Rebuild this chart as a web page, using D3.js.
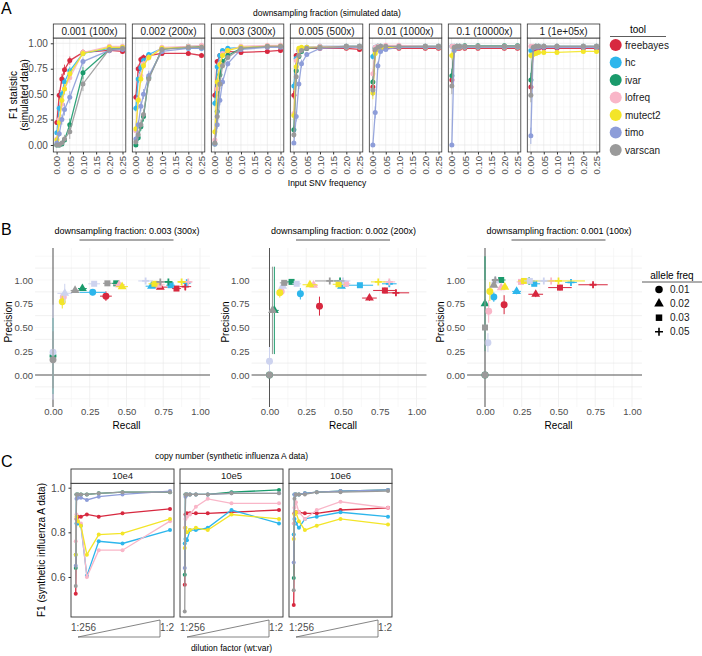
<!DOCTYPE html>
<html>
<head>
<meta charset="utf-8">
<script src="https://cdnjs.cloudflare.com/ajax/libs/d3/7.8.5/d3.min.js"></script>
<style>
  body { margin: 0; background: #fff; }
  svg { font-family: "Liberation Sans", Arial, sans-serif; }
</style>
</head>
<body>
<div id="chart"></div>
<script>
// ---------- shared ----------
var tools = ["freebayes", "hc", "ivar", "lofreq", "mutect2", "timo", "varscan"];
var toolColors = ["#d7283f", "#2db6ec", "#1a9a6b", "#f9b6c8", "#f3e528", "#8d9dd9", "#9a9a9a"];

// ---------- panel A: F1 vs input SNV frequency ----------
var fractionLabels = ["0.001 (100x)", "0.002 (200x)", "0.003 (300x)", "0.005 (500x)", "0.01 (1000x)", "0.1 (10000x)", "1 (1e+05x)"];
var snvFreq = [0.001, 0.01, 0.02, 0.03, 0.05, 0.1, 0.2, 0.25];
var xTicksA = [0, 0.05, 0.1, 0.15, 0.2, 0.25];

// rows follow tools order
var f1_0001 = [
  [0.22, 0.49, 0.65, 0.74, 0.83, 0.91, 0.93, 0.92],
  [0.12, 0.36, 0.50, 0.62, 0.73, 0.90, 0.95, 0.96],
  [0.00, 0.00, 0.01, 0.05, 0.20, 0.71, 0.94, 0.95],
  [0.06, 0.25, 0.40, 0.55, 0.66, 0.91, 0.97, 0.97],
  [0.05, 0.22, 0.44, 0.55, 0.70, 0.90, 0.96, 0.96],
  [0.02, 0.11, 0.25, 0.35, 0.47, 0.82, 0.93, 0.94],
  [0.00, 0.00, 0.02, 0.06, 0.13, 0.60, 0.94, 0.95]
];
var f1_0002 = [
  [0.47, 0.75, 0.84, 0.86, 0.88, 0.90, 0.90, 0.88],
  [0.36, 0.65, 0.76, 0.83, 0.89, 0.95, 0.95, 0.95],
  [0.00, 0.07, 0.18, 0.28, 0.66, 0.94, 0.97, 0.97],
  [0.14, 0.45, 0.68, 0.80, 0.86, 0.96, 0.97, 0.98],
  [0.16, 0.44, 0.65, 0.78, 0.86, 0.95, 0.96, 0.96],
  [0.06, 0.20, 0.38, 0.50, 0.68, 0.92, 0.95, 0.95],
  [0.03, 0.10, 0.20, 0.30, 0.65, 0.94, 0.96, 0.96]
];
var f1_0003 = [
  [0.49, 0.82, 0.88, 0.90, 0.92, 0.91, 0.92, 0.93],
  [0.41, 0.77, 0.88, 0.93, 0.95, 0.96, 0.97, 0.97],
  [0.01, 0.33, 0.69, 0.82, 0.88, 0.95, 0.97, 0.97],
  [0.05, 0.55, 0.80, 0.90, 0.93, 0.97, 0.98, 0.98],
  [0.13, 0.62, 0.79, 0.88, 0.93, 0.96, 0.97, 0.97],
  [0.01, 0.20, 0.44, 0.62, 0.80, 0.94, 0.96, 0.96],
  [0.02, 0.28, 0.60, 0.78, 0.86, 0.95, 0.97, 0.97]
];
var f1_0005 = [
  [0.49, 0.88, 0.93, 0.94, 0.95, 0.95, 0.95, 0.94],
  [0.58, 0.85, 0.93, 0.95, 0.96, 0.97, 0.97, 0.97],
  [0.15, 0.73, 0.87, 0.92, 0.95, 0.96, 0.97, 0.97],
  [0.31, 0.83, 0.93, 0.95, 0.96, 0.97, 0.97, 0.97],
  [0.29, 0.77, 0.95, 0.96, 0.96, 0.96, 0.96, 0.96],
  [0.02, 0.28, 0.60, 0.80, 0.89, 0.95, 0.96, 0.96],
  [0.10, 0.67, 0.88, 0.93, 0.95, 0.96, 0.97, 0.97]
];
var f1_001 = [
  [0.57, 0.93, 0.95, 0.95, 0.95, 0.95, 0.95, 0.95],
  [0.87, 0.96, 0.97, 0.97, 0.97, 0.97, 0.97, 0.97],
  [0.62, 0.95, 0.97, 0.97, 0.97, 0.97, 0.97, 0.97],
  [0.70, 0.96, 0.97, 0.97, 0.98, 0.98, 0.97, 0.97],
  [0.51, 0.90, 0.94, 0.95, 0.96, 0.96, 0.96, 0.96],
  [0.00, 0.32, 0.78, 0.92, 0.94, 0.96, 0.96, 0.96],
  [0.54, 0.94, 0.96, 0.97, 0.97, 0.97, 0.97, 0.97]
];
var f1_01 = [
  [0.64, 0.95, 0.95, 0.95, 0.95, 0.95, 0.95, 0.95],
  [0.97, 0.97, 0.97, 0.97, 0.97, 0.97, 0.97, 0.97],
  [0.68, 0.96, 0.97, 0.97, 0.975, 0.975, 0.975, 0.975],
  [0.97, 0.97, 0.97, 0.97, 0.97, 0.97, 0.97, 0.97],
  [0.88, 0.95, 0.96, 0.96, 0.96, 0.96, 0.96, 0.96],
  [0.00, 0.93, 0.96, 0.96, 0.96, 0.96, 0.96, 0.96],
  [0.58, 0.96, 0.97, 0.97, 0.97, 0.97, 0.97, 0.97]
];
var f1_1 = [
  [0.57, 0.94, 0.95, 0.95, 0.95, 0.95, 0.95, 0.95],
  [0.93, 0.96, 0.97, 0.97, 0.97, 0.97, 0.97, 0.97],
  [0.64, 0.96, 0.97, 0.97, 0.97, 0.97, 0.97, 0.97],
  [0.97, 0.97, 0.97, 0.97, 0.97, 0.97, 0.97, 0.97],
  [0.88, 0.89, 0.90, 0.91, 0.91, 0.91, 0.92, 0.92],
  [0.09, 0.95, 0.96, 0.96, 0.96, 0.96, 0.96, 0.96],
  [0.49, 0.96, 0.97, 0.97, 0.97, 0.97, 0.97, 0.97]
];
// error bar half-widths, same layout
var se_0001 = [
  [0.02, 0.05, 0.05, 0.05, 0.04, 0.03, 0.02, 0.02],
  [0.02, 0.03, 0.04, 0.04, 0.04, 0.02, 0.02, 0.02],
  [0.00, 0.00, 0.01, 0.03, 0.06, 0.06, 0.02, 0.02],
  [0.02, 0.04, 0.05, 0.05, 0.05, 0.03, 0.02, 0.02],
  [0.02, 0.04, 0.05, 0.05, 0.05, 0.03, 0.02, 0.02],
  [0.01, 0.03, 0.05, 0.06, 0.06, 0.04, 0.03, 0.02],
  [0.00, 0.00, 0.02, 0.04, 0.07, 0.07, 0.02, 0.02]
];
var se_0002 = [
  [0.03, 0.04, 0.03, 0.03, 0.02, 0.02, 0.02, 0.02],
  [0.03, 0.04, 0.04, 0.03, 0.02, 0.01, 0.01, 0.01],
  [0.00, 0.03, 0.04, 0.05, 0.05, 0.02, 0.01, 0.01],
  [0.02, 0.04, 0.04, 0.03, 0.03, 0.01, 0.01, 0.01],
  [0.03, 0.04, 0.04, 0.03, 0.03, 0.01, 0.01, 0.01],
  [0.02, 0.04, 0.05, 0.05, 0.05, 0.02, 0.01, 0.01],
  [0.02, 0.04, 0.05, 0.05, 0.05, 0.02, 0.01, 0.01]
];
var se_0003 = [
  [0.03, 0.02, 0.02, 0.02, 0.02, 0.02, 0.02, 0.02],
  [0.03, 0.03, 0.02, 0.01, 0.01, 0.01, 0.01, 0.01],
  [0.01, 0.04, 0.04, 0.03, 0.02, 0.01, 0.01, 0.01],
  [0.02, 0.04, 0.03, 0.02, 0.01, 0.01, 0.01, 0.01],
  [0.03, 0.04, 0.03, 0.02, 0.01, 0.01, 0.01, 0.01],
  [0.01, 0.04, 0.05, 0.04, 0.03, 0.01, 0.01, 0.01],
  [0.01, 0.04, 0.05, 0.03, 0.02, 0.01, 0.01, 0.01]
];
var se_0005 = [
  [0.04, 0.02, 0.01, 0.01, 0.01, 0.01, 0.01, 0.01],
  [0.04, 0.02, 0.01, 0.01, 0.01, 0.01, 0.01, 0.01],
  [0.04, 0.04, 0.02, 0.01, 0.01, 0.01, 0.01, 0.01],
  [0.04, 0.03, 0.01, 0.01, 0.01, 0.01, 0.01, 0.01],
  [0.04, 0.03, 0.01, 0.01, 0.01, 0.01, 0.01, 0.01],
  [0.01, 0.05, 0.05, 0.04, 0.02, 0.01, 0.01, 0.01],
  [0.03, 0.05, 0.02, 0.01, 0.01, 0.01, 0.01, 0.01]
];
var se_001 = [
  [0.06, 0.01, 0.01, 0.01, 0.01, 0.01, 0.01, 0.01],
  [0.03, 0.01, 0.01, 0.01, 0.01, 0.01, 0.01, 0.01],
  [0.06, 0.01, 0.01, 0.01, 0.01, 0.01, 0.01, 0.01],
  [0.05, 0.01, 0.01, 0.01, 0.01, 0.01, 0.01, 0.01],
  [0.06, 0.02, 0.01, 0.01, 0.01, 0.01, 0.01, 0.01],
  [0.01, 0.06, 0.04, 0.01, 0.01, 0.01, 0.01, 0.01],
  [0.06, 0.01, 0.01, 0.01, 0.01, 0.01, 0.01, 0.01]
];
var se_01 = [
  [0.06, 0.01, 0.01, 0.01, 0.01, 0.01, 0.01, 0.01],
  [0.01, 0.01, 0.01, 0.01, 0.01, 0.01, 0.01, 0.01],
  [0.07, 0.01, 0.01, 0.01, 0.01, 0.01, 0.01, 0.01],
  [0.01, 0.01, 0.01, 0.01, 0.01, 0.01, 0.01, 0.01],
  [0.04, 0.01, 0.01, 0.01, 0.01, 0.01, 0.01, 0.01],
  [0.01, 0.02, 0.01, 0.01, 0.01, 0.01, 0.01, 0.01],
  [0.08, 0.01, 0.01, 0.01, 0.01, 0.01, 0.01, 0.01]
];
var se_1 = [
  [0.06, 0.01, 0.01, 0.01, 0.01, 0.01, 0.01, 0.01],
  [0.02, 0.01, 0.01, 0.01, 0.01, 0.01, 0.01, 0.01],
  [0.07, 0.01, 0.01, 0.01, 0.01, 0.01, 0.01, 0.01],
  [0.01, 0.01, 0.01, 0.01, 0.01, 0.01, 0.01, 0.01],
  [0.03, 0.02, 0.02, 0.02, 0.02, 0.02, 0.02, 0.02],
  [0.08, 0.01, 0.01, 0.01, 0.01, 0.01, 0.01, 0.01],
  [0.07, 0.01, 0.01, 0.01, 0.01, 0.01, 0.01, 0.01]
];

// ---------- panel B: precision vs recall ----------
var bTitles = ["downsampling fraction: 0.003 (300x)", "downsampling fraction: 0.002 (200x)", "downsampling fraction: 0.001 (100x)"];
var alleleFreqs = ["0.01", "0.02", "0.03", "0.05"];
// rows = tools, columns = allele freq
var recall_0003 = [
  [0.36, 0.73, 0.84, 0.90],
  [0.27, 0.67, 0.80, 0.91],
  [0.00, 0.20, 0.43, 0.785],
  [0.07, 0.45, 0.72, 0.92],
  [0.063, 0.47, 0.69, 0.875],
  [0.00, 0.08, 0.28, 0.63],
  [0.00, 0.15, 0.37, 0.73]
];
var prec_0003 = [
  [0.83, 0.925, 0.91, 0.93],
  [0.87, 0.935, 0.945, 0.97],
  [0.20, 0.91, 0.965, 0.98],
  [0.82, 0.95, 0.95, 0.98],
  [0.77, 0.93, 0.96, 0.98],
  [0.24, 0.86, 0.96, 0.99],
  [0.16, 0.89, 0.965, 0.98]
];
var recallSe_0003 = [
  [0.04, 0.05, 0.03, 0.04],
  [0.09, 0.04, 0.03, 0.03],
  [0.00, 0.03, 0.03, 0.03],
  [0.02, 0.04, 0.04, 0.03],
  [0.02, 0.04, 0.04, 0.03],
  [0.00, 0.05, 0.04, 0.05],
  [0.00, 0.03, 0.03, 0.03]
];
var precSe_0003 = [
  [0.05, 0.02, 0.02, 0.04],
  [0.03, 0.01, 0.01, 0.01],
  [0.40, 0.02, 0.01, 0.01],
  [0.05, 0.01, 0.01, 0.01],
  [0.07, 0.01, 0.01, 0.01],
  [0.50, 0.10, 0.02, 0.01],
  [0.30, 0.01, 0.01, 0.01]
];
var recall_0002 = [
  [0.34, 0.68, 0.785, 0.86],
  [0.21, 0.49, 0.615, 0.815],
  [0.00, 0.033, 0.15, 0.48],
  [0.08, 0.30, 0.52, 0.815],
  [0.07, 0.275, 0.47, 0.74],
  [0.00, 0.09, 0.185, 0.50],
  [0.00, 0.02, 0.10, 0.41]
];
var prec_0002 = [
  [0.725, 0.81, 0.89, 0.865],
  [0.855, 0.935, 0.945, 0.96],
  [0.00, 0.68, 0.98, 0.99],
  [0.88, 0.945, 0.96, 0.98],
  [0.865, 0.95, 0.955, 0.98],
  [0.145, 0.935, 0.96, 0.99],
  [0.00, 0.68, 0.97, 0.99]
];
var recallSe_0002 = [
  [0.02, 0.05, 0.08, 0.09],
  [0.02, 0.04, 0.09, 0.05],
  [0.00, 0.03, 0.04, 0.04],
  [0.01, 0.03, 0.03, 0.04],
  [0.01, 0.05, 0.04, 0.05],
  [0.00, 0.02, 0.03, 0.05],
  [0.00, 0.02, 0.03, 0.10]
];
var precSe_0002 = [
  [0.10, 0.03, 0.03, 0.03],
  [0.06, 0.02, 0.01, 0.01],
  [0.00, 0.46, 0.01, 0.01],
  [0.04, 0.02, 0.01, 0.01],
  [0.05, 0.02, 0.01, 0.01],
  [0.15, 0.02, 0.01, 0.01],
  [0.00, 0.46, 0.01, 0.01]
];
var recall_0001 = [
  [0.13, 0.345, 0.51, 0.735],
  [0.06, 0.215, 0.335, 0.585],
  [0.00, 0.00, 0.11, 0.30],
  [0.025, 0.11, 0.245, 0.45],
  [0.033, 0.135, 0.265, 0.50],
  [0.02, 0.07, 0.305, 0.40],
  [0.00, 0.06, 0.00, 0.07]
];
var prec_0001 = [
  [0.74, 0.85, 0.92, 0.95],
  [0.82, 0.88, 0.96, 0.975],
  [0.00, 0.75, 1.00, 0.99],
  [0.67, 0.92, 0.98, 0.99],
  [0.88, 0.925, 0.99, 0.99],
  [0.34, 0.99, 0.99, 0.99],
  [0.00, 0.945, 0.50, 1.00]
];
var recallSe_0001 = [
  [0.01, 0.05, 0.08, 0.10],
  [0.01, 0.03, 0.04, 0.04],
  [0.00, 0.01, 0.03, 0.04],
  [0.01, 0.02, 0.03, 0.04],
  [0.01, 0.02, 0.04, 0.18],
  [0.01, 0.02, 0.04, 0.04],
  [0.00, 0.02, 0.01, 0.02]
];
var precSe_0001 = [
  [0.10, 0.03, 0.03, 0.02],
  [0.05, 0.03, 0.02, 0.01],
  [0.00, 0.50, 0.01, 0.01],
  [0.12, 0.03, 0.01, 0.01],
  [0.10, 0.03, 0.01, 0.01],
  [0.10, 0.01, 0.01, 0.01],
  [0.00, 0.02, 0.50, 0.01]
];

// ---------- panel C: synthetic influenza A ----------
var copyNumbers = ["10e4", "10e5", "10e6"];
var dilution = [256, 128, 64, 32, 16, 8, 4, 2];
var f1_cn1e4 = [
  [0.525, 0.86, 0.87, 0.87, 0.88, 0.87, 0.885, 0.905],
  [0.70, 0.84, 0.84, 0.83, 0.605, 0.76, 0.75, 0.81],
  [0.64, 0.97, 0.97, 0.97, 0.97, 0.975, 0.98, 0.98],
  [0.76, 0.88, 0.85, 0.84, 0.60, 0.72, 0.72, 0.85],
  [0.70, 0.87, 0.85, 0.83, 0.70, 0.79, 0.795, 0.86],
  [0.65, 0.95, 0.955, 0.955, 0.945, 0.96, 0.97, 0.985],
  [0.56, 0.97, 0.97, 0.97, 0.97, 0.975, 0.98, 0.98]
];
var f1_cn1e5 = [
  [0.565, 0.88, 0.885, 0.885, 0.885, 0.885, 0.89, 0.90],
  [0.75, 0.77, 0.765, 0.81, 0.81, 0.82, 0.90, 0.84],
  [0.61, 0.97, 0.97, 0.97, 0.97, 0.97, 0.98, 0.99],
  [0.82, 0.86, 0.87, 0.88, 0.915, 0.95, 0.93, 0.93],
  [0.73, 0.82, 0.80, 0.81, 0.82, 0.81, 0.88, 0.86],
  [0.64, 0.96, 0.97, 0.97, 0.97, 0.97, 0.975, 0.975],
  [0.445, 0.97, 0.97, 0.97, 0.97, 0.97, 0.975, 0.975]
];
var f1_cn1e6 = [
  [0.475, 0.885, 0.89, 0.89, 0.885, 0.885, 0.90, 0.91],
  [0.79, 0.86, 0.84, 0.82, 0.86, 0.87, 0.89, 0.87],
  [0.595, 0.97, 0.97, 0.97, 0.975, 0.98, 0.985, 0.99],
  [0.84, 0.91, 0.935, 0.89, 0.86, 0.90, 0.937, 0.91],
  [0.77, 0.88, 0.89, 0.85, 0.81, 0.83, 0.86, 0.835],
  [0.665, 0.97, 0.97, 0.97, 0.975, 0.98, 0.985, 0.99],
  [0.54, 0.95, 0.97, 0.97, 0.97, 0.98, 0.98, 0.985]
];

// ================== drawing ==================
var svg = d3.select("#chart").append("svg")
  .attr("width", 702)
  .attr("height", 656);

var tickCol = "#4d4d4d";
var frameCol = "#333333";

function addText(g, txt, x, y, size, anchor, col) {
  return g.append("text")
    .attr("x", x).attr("y", y)
    .attr("font-size", size)
    .attr("text-anchor", anchor || "middle")
    .attr("fill", col || "#000")
    .text(txt);
}

// panel letters
addText(svg, "A", 1, 14, 16, "start");
addText(svg, "B", 1, 235, 16, "start");
addText(svg, "C", 1, 467, 16, "start");

// ---------------- panel A ----------------
var f1A = [f1_0001, f1_0002, f1_0003, f1_0005, f1_001, f1_01, f1_1];
var seA = [se_0001, se_0002, se_0003, se_0005, se_001, se_01, se_1];
var aLeft = 53.3, aStep = 79, aW = 72.5, aTop = 38, aBot = 152, aStrip = 24;
var yA = d3.scaleLinear().domain([-0.069, 1.052]).range([aBot, aTop]);

var gA = svg.append("g");
addText(gA, "downsampling fraction (simulated data)", 327, 16, 8.5);
addText(gA, "Input SNV frequency", 327, 186, 8.5);

// y title, two lines
gA.append("text").attr("transform", "translate(17,95) rotate(-90)")
  .attr("text-anchor", "middle").attr("font-size", 10).text("F1 statistic");
gA.append("text").attr("transform", "translate(28,95) rotate(-90)")
  .attr("text-anchor", "middle").attr("font-size", 10).text("(simulated data)");

fractionLabels.forEach(function (lab, fi) {
  var left = aLeft + fi * aStep;
  var x = d3.scaleLinear().domain([-0.0125, 0.2625]).range([left, left + aW]);
  var g = gA.append("g");

  // grid
  var minorY = d3.range(0, 9).map(function (i) { return i * 0.125; });
  var minorX = d3.range(0, 11).map(function (i) { return i * 0.025; });
  g.selectAll(".gy").data(minorY).enter().append("line")
    .attr("x1", left).attr("x2", left + aW)
    .attr("y1", function (d) { return yA(d); }).attr("y2", function (d) { return yA(d); })
    .attr("stroke", function (d, i) { return i % 2 ? "#f2f2f2" : "#e3e3e3"; })
    .attr("stroke-width", function (d, i) { return i % 2 ? 0.4 : 0.6; });
  g.selectAll(".gx").data(minorX).enter().append("line")
    .attr("y1", aTop).attr("y2", aBot)
    .attr("x1", function (d) { return x(d); }).attr("x2", function (d) { return x(d); })
    .attr("stroke", function (d, i) { return i % 2 ? "#f2f2f2" : "#e3e3e3"; })
    .attr("stroke-width", function (d, i) { return i % 2 ? 0.4 : 0.6; });

  // series
  f1A[fi].forEach(function (vals, ti) {
    var col = toolColors[ti];
    var pts = snvFreq.map(function (f, k) { return [f, vals[k], seA[fi][ti][k]]; });
    var sg = g.append("g");
    sg.selectAll(".eb").data(pts).enter().append("line")
      .attr("x1", function (d) { return x(d[0]); }).attr("x2", function (d) { return x(d[0]); })
      .attr("y1", function (d) { return yA(d[1] - d[2]); }).attr("y2", function (d) { return yA(d[1] + d[2]); })
      .attr("stroke", col).attr("stroke-width", 0.8);
    sg.append("path").datum(pts)
      .attr("d", d3.line().x(function (d) { return x(d[0]); }).y(function (d) { return yA(d[1]); }))
      .attr("fill", "none").attr("stroke", col).attr("stroke-width", 1.3).attr("opacity", 0.9);
    sg.selectAll("circle").data(pts).enter().append("circle")
      .attr("cx", function (d) { return x(d[0]); }).attr("cy", function (d) { return yA(d[1]); })
      .attr("r", 2.5).attr("fill", col);
  });

  // frame + strip
  g.append("rect").attr("x", left).attr("y", aTop).attr("width", aW).attr("height", aBot - aTop)
    .attr("fill", "none").attr("stroke", frameCol).attr("stroke-width", 0.8);
  g.append("rect").attr("x", left).attr("y", aStrip).attr("width", aW).attr("height", aTop - aStrip)
    .attr("fill", "#fff").attr("stroke", frameCol).attr("stroke-width", 0.8);
  addText(g, lab, left + aW / 2, aTop - 3.5, 10, "middle", "#1a1a1a");

  // x axis
  var xa = g.append("g").attr("transform", "translate(0," + aBot + ")")
    .call(d3.axisBottom(x).tickValues(xTicksA).tickFormat(d3.format(".2f")).tickSize(2.5));
  xa.select(".domain").remove();
  xa.selectAll("line").attr("stroke", frameCol);
  xa.selectAll("text")
    .attr("transform", "rotate(-90)")
    .attr("x", -4).attr("y", 0).attr("dy", "0.35em")
    .attr("text-anchor", "end").attr("font-size", 9.5).attr("fill", tickCol)
    .attr("font-family", null);

  if (fi === 0) {
    var ya = g.append("g").attr("transform", "translate(" + left + ",0)")
      .call(d3.axisLeft(yA).tickValues([0, 0.25, 0.5, 0.75, 1]).tickFormat(d3.format(".2f")).tickSize(2.5));
    ya.select(".domain").remove();
    ya.selectAll("line").attr("stroke", frameCol);
    ya.selectAll("text").attr("font-size", 10).attr("fill", tickCol).attr("font-family", null);
  }
});

// tool legend
var gL = svg.append("g");
addText(gL, "tool", 638, 33, 10);
gL.append("line").attr("x1", 610).attr("x2", 666).attr("y1", 36.5).attr("y2", 36.5)
  .attr("stroke", "#333").attr("stroke-width", 0.8);
tools.forEach(function (t, i) {
  var yy = 45 + i * 17.5;
  gL.append("circle").attr("cx", 615.7).attr("cy", yy).attr("r", 6).attr("fill", toolColors[i]);
  addText(gL, t, 625, yy + 3.5, 10, "start", "#1a1a1a");
});

// ---------------- panel B ----------------
var recallB = [recall_0003, recall_0002, recall_0001];
var precB = [prec_0003, prec_0002, prec_0001];
var recallSeB = [recallSe_0003, recallSe_0002, recallSe_0001];
var precSeB = [precSe_0003, precSe_0002, precSe_0001];
var bOff = [0, 216.5, 432];
var yB = d3.scaleLinear().domain([0, 1]).range([375, 280]);
var bTop = 248, bBot = 407;
var shapeGen = [d3.symbolCircle, d3.symbolTriangle, d3.symbolSquare];
var shapeSize = [38, 34, 36];
// timo is drawn paler in these panels
var bColors = toolColors.map(function (c, i) { return i === 5 ? "#cdd3ef" : c; });

bTitles.forEach(function (title, pi) {
  var off = bOff[pi];
  var xB = d3.scaleLinear().domain([0, 1]).range([53 + off, 200 + off]);
  var g = svg.append("g");
  var left = xB(-0.122), right = xB(1.068);

  var gridV = d3.range(0, 9).map(function (i) { return i * 0.125; });
  var gridH = d3.range(-2, 11).map(function (i) { return i * 0.125; });
  g.selectAll(".gv").data(gridV).enter().append("line")
    .attr("x1", function (d) { return xB(d); }).attr("x2", function (d) { return xB(d); })
    .attr("y1", bTop).attr("y2", bBot)
    .attr("stroke", function (d, i) { return i % 2 ? "#f3f3f3" : "#e8e8e8"; }).attr("stroke-width", 0.6);
  g.selectAll(".gh").data(gridH).enter().append("line")
    .attr("x1", left).attr("x2", right)
    .attr("y1", function (d) { return yB(d); }).attr("y2", function (d) { return yB(d); })
    .attr("stroke", function (d, i) { return i % 2 ? "#e8e8e8" : "#f3f3f3"; }).attr("stroke-width", 0.6);

  // zero reference lines
  g.append("line").attr("x1", xB(0)).attr("x2", xB(0)).attr("y1", bTop).attr("y2", bBot)
    .attr("stroke", "#555").attr("stroke-width", 1);
  g.append("line").attr("x1", left).attr("x2", right).attr("y1", yB(0)).attr("y2", yB(0))
    .attr("stroke", "#555").attr("stroke-width", 1);

  // title + its underline
  addText(g, title, xB(0.5) + 0.5, 234, 9);
  g.append("line").attr("x1", xB(0.5) - 47).attr("x2", xB(0.5) + 47).attr("y1", 240).attr("y2", 240)
    .attr("stroke", "#555").attr("stroke-width", 1);

  // points
  tools.forEach(function (t, ti) {
    var col = bColors[ti];
    alleleFreqs.forEach(function (af, ai) {
      var rx = recallB[pi][ti][ai], py = precB[pi][ti][ai];
      var ex = recallSeB[pi][ti][ai], ey = precSeB[pi][ti][ai];
      var cx = xB(rx), cy = yB(py);
      if (ex > 0) g.append("line").attr("x1", xB(rx - ex)).attr("x2", xB(rx + ex)).attr("y1", cy).attr("y2", cy)
        .attr("stroke", col).attr("stroke-width", 1);
      if (ey > 0) g.append("line").attr("x1", cx).attr("x2", cx).attr("y1", yB(py - ey)).attr("y2", yB(py + ey))
        .attr("stroke", col).attr("stroke-width", 1);
      if (ai < 3) {
        g.append("path").attr("transform", "translate(" + cx + "," + cy + ")")
          .attr("d", d3.symbol().type(shapeGen[ai]).size(shapeSize[ai])())
          .attr("fill", col);
      } else {
        g.append("path").attr("d", "M" + (cx - 3.5) + "," + cy + "H" + (cx + 3.5) + "M" + cx + "," + (cy - 3.5) + "V" + (cy + 3.5))
          .attr("stroke", col).attr("stroke-width", 1.8);
      }
    });
  });

  // axes labels
  var xa = g.append("g").attr("transform", "translate(0," + bBot + ")")
    .call(d3.axisBottom(xB).tickValues([0, 0.25, 0.5, 0.75, 1]).tickFormat(d3.format(".2f")).tickSize(0).tickPadding(1));
  xa.select(".domain").remove();
  xa.selectAll("text").attr("font-size", 9.5).attr("fill", tickCol).attr("font-family", null);
  var ya = g.append("g").attr("transform", "translate(" + (left - 2) + ",0)")
    .call(d3.axisLeft(yB).tickValues([0, 0.25, 0.5, 0.75, 1]).tickFormat(d3.format(".2f")).tickSize(0).tickPadding(0));
  ya.select(".domain").remove();
  ya.selectAll("text").attr("font-size", 9.5).attr("fill", tickCol).attr("font-family", null);

  addText(g, "Recall", xB(0.5), 428.5, 10);
  g.append("text").attr("transform", "translate(" + (off + 12) + ",322) rotate(-90)")
    .attr("text-anchor", "middle").attr("font-size", 10).text("Precision");
});

// allele freq legend
var gL2 = svg.append("g");
addText(gL2, "allele freq", 672, 278.5, 10);
gL2.append("line").attr("x1", 642).attr("x2", 702).attr("y1", 282).attr("y2", 282)
  .attr("stroke", "#333").attr("stroke-width", 0.8);
alleleFreqs.forEach(function (af, i) {
  var yy = 289.5 + i * 14.1, xx = 659;
  if (i < 3) {
    gL2.append("path").attr("transform", "translate(" + xx + "," + yy + ")")
      .attr("d", d3.symbol().type(shapeGen[i]).size(shapeSize[i] + 6)()).attr("fill", "#000");
  } else {
    gL2.append("path").attr("d", "M" + (xx - 4) + "," + yy + "H" + (xx + 4) + "M" + xx + "," + (yy - 4) + "V" + (yy + 4))
      .attr("stroke", "#000").attr("stroke-width", 1.6);
  }
  addText(gL2, af, 670, yy + 3.5, 10, "start", "#1a1a1a");
});

// ---------------- panel C ----------------
var f1C = [f1_cn1e4, f1_cn1e5, f1_cn1e6];
var cLeft = 71, cStep = 109, cW = 103, cStrip = 469, cTop = 483.3, cBot = 617;
var yC = d3.scaleLinear().domain([0.4207, 1.0197]).range([cBot, cTop]);
var gC = svg.append("g");
addText(gC, "copy number (synthetic influenza A data)", 231.5, 459, 8.5);
addText(gC, "dilution factor (wt:var)", 231.5, 651, 8.5);
gC.append("text").attr("transform", "translate(45,550) rotate(-90)")
  .attr("text-anchor", "middle").attr("font-size", 10).text("F1 (synthetic influenza A data)");

copyNumbers.forEach(function (cn, ci) {
  var left = cLeft + ci * cStep;
  var x = d3.scaleLinear().domain([-0.021, 0.521]).range([left, left + cW]);
  var g = gC.append("g");
  f1C[ci].forEach(function (vals, ti) {
    var col = toolColors[ti];
    var pts = dilution.map(function (d, k) { return [1 / d, vals[k]]; });
    g.append("path").datum(pts)
      .attr("d", d3.line().x(function (d) { return x(d[0]); }).y(function (d) { return yC(d[1]); }))
      .attr("fill", "none").attr("stroke", col).attr("stroke-width", 1.3);
    g.selectAll(".p" + ti).data(pts).enter().append("circle")
      .attr("cx", function (d) { return x(d[0]); }).attr("cy", function (d) { return yC(d[1]); })
      .attr("r", 2).attr("fill", col);
  });
  g.append("rect").attr("x", left).attr("y", cTop).attr("width", cW).attr("height", cBot - cTop)
    .attr("fill", "none").attr("stroke", frameCol).attr("stroke-width", 0.9);
  g.append("rect").attr("x", left).attr("y", cStrip).attr("width", cW).attr("height", cTop - cStrip)
    .attr("fill", "#fff").attr("stroke", frameCol).attr("stroke-width", 0.9);
  addText(g, cn, left + cW / 2, cTop - 4, 9.5, "middle", "#1a1a1a");

  // dilution wedge and end labels
  addText(g, "1:" + dilution[0], left, 631, 10, "start", tickCol);
  addText(g, "1:" + dilution[dilution.length - 1], left + cW, 631, 10, "end", tickCol);
  g.append("path")
    .attr("d", "M" + (left + 7) + ",637L" + (left + 89) + ",620L" + (left + 89) + ",637Z")
    .attr("fill", "none").attr("stroke", "#666").attr("stroke-width", 0.8);

  if (ci === 0) {
    var ya = g.append("g").attr("transform", "translate(" + left + ",0)")
      .call(d3.axisLeft(yC).tickValues([0.6, 0.8, 1.0]).tickFormat(d3.format(".1f")).tickSize(2.5));
    ya.select(".domain").remove();
    ya.selectAll("line").attr("stroke", frameCol);
    ya.selectAll("text").attr("font-size", 10.5).attr("fill", tickCol).attr("font-family", null);
  }
});
</script>
</body>
</html>
